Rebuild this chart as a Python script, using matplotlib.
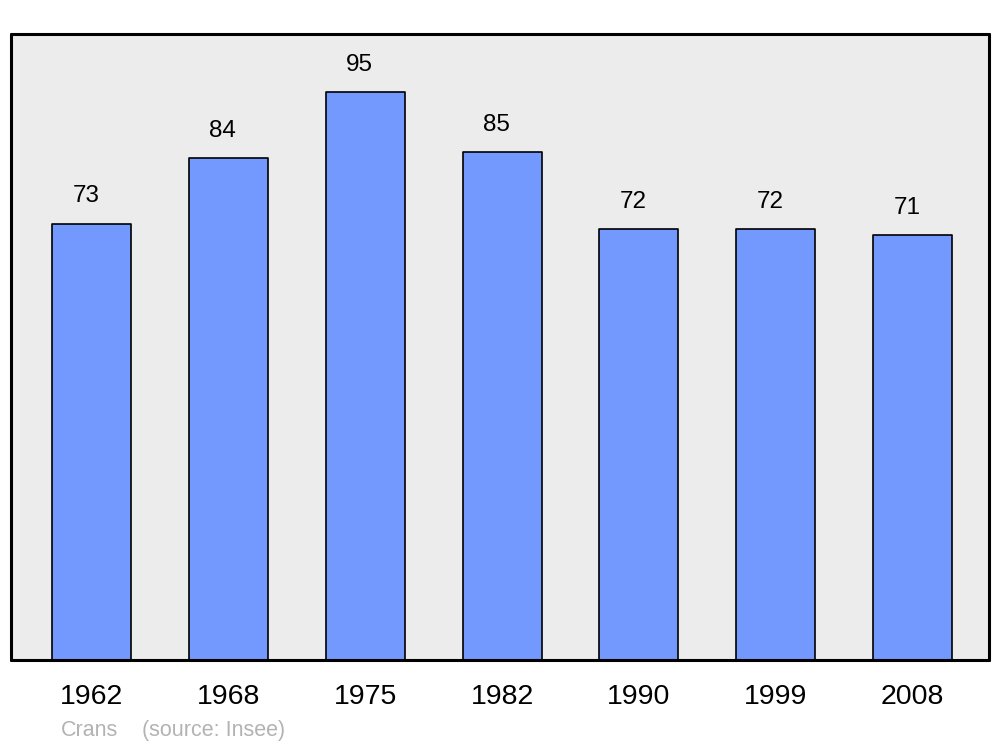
import matplotlib.pyplot as plt

plt.rcParams['font.family'] = ['Liberation Sans', 'DejaVu Sans']

years = ['1962', '1968', '1975', '1982', '1990', '1999', '2008']
population = [73, 84, 95, 85, 72, 72, 71]

fig = plt.figure(figsize=(10, 7.47), dpi=100)
ax = fig.add_axes([0.011, 0.1165, 0.978, 0.838])
ax.set_facecolor('#ececec')

x = range(len(years))
bars = ax.bar(x, population, width=0.578, color='#7399ff', edgecolor='black',
              linewidth=1.2, zorder=2)
for b in bars:
    b.set_joinstyle('round')

for xi, v in zip(x, population):
    ax.annotate(str(v), (xi, v), xytext=(-4, 19.5), textcoords='offset points',
                ha='center', va='center', fontsize=17.5)

ax.set_xlim(-0.59, 6.56)
ax.set_ylim(0, 104.7)
ax.set_xticks(list(x))
ax.set_xticklabels(years, fontsize=20.5)
ax.set_yticks([])
ax.tick_params(axis='x', length=0, pad=17)
for s in ax.spines.values():
    s.set_linewidth(2.2)
    s.set_capstyle('round')
    s.set_zorder(3)

fig.text(0.061, 0.022, 'Crans', color='#b3b3b3', fontsize=15.5, va='center')
fig.text(0.142, 0.022, '(source: Insee)', color='#b3b3b3', fontsize=15.5, va='center')

plt.savefig('out.png')
